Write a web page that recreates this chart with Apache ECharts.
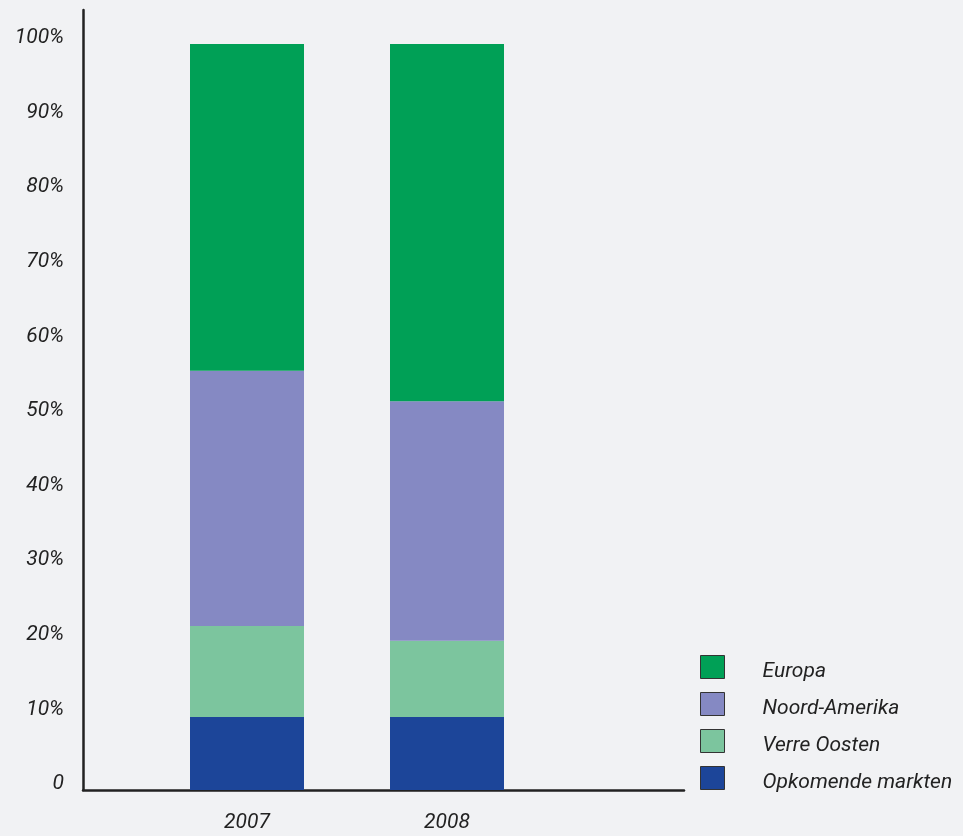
<!DOCTYPE html>
<html>
<head>
<meta charset="utf-8">
<script src="https://cdn.jsdelivr.net/npm/echarts@6/dist/echarts.min.js"></script>
<style>
html,body{margin:0;padding:0;background:#f1f2f4;}
#chart{width:963px;height:836px;}
</style>
</head>
<body>
<div id="chart"></div>
<script>
const years = [2007, 2008];
const seriesNames = ['Opkomende markten', 'Verre Oosten', 'Noord-Amerika', 'Europa'];
const opkomende = [9.8, 9.8];
const verreOosten = [12.2, 10.2];
const noordAmerika = [34.2, 32.1];
const europa = [43.8, 47.9];
const yTicks = [0, 10, 20, 30, 40, 50, 60, 70, 80, 90, 100];
const colors = ['#1c4599', '#7cc59e', '#8589c3', '#00a056'];
const values = [opkomende, verreOosten, noordAmerika, europa];

const font = 'Roboto';
const fs = 21;
const chart = echarts.init(document.getElementById('chart'));
chart.setOption({
  backgroundColor: '#f1f2f4',
  animation: false,
  grid: { left: 83, right: 279, top: 10, bottom: 46, containLabel: false },
  legend: {
    orient: 'vertical',
    left: 700,
    top: 655,
    padding: 0,
    itemWidth: 24,
    itemHeight: 23,
    itemGap: 10,
    icon: 'rect',
    data: ['Europa', 'Noord-Amerika', 'Verre Oosten', 'Opkomende markten'],
    itemStyle: { borderColor: '#333', borderWidth: 1 },
    formatter: name => '{a|' + name + '}',
    textStyle: {
      fontFamily: font, fontStyle: 'italic', fontSize: fs, color: '#222', padding: [0, 0, 0, 33],
      rich: { a: { fontFamily: font, fontStyle: 'italic', fontSize: fs, color: '#222', padding: [9, 0, 0, 0] } }
    }
  },
  xAxis: {
    type: 'value',
    min: 2006.18,
    max: 2009.185,
    splitLine: { show: false },
    axisTick: { show: false },
    axisLine: { show: true, lineStyle: { color: '#222', width: 2.5 } },
    axisLabel: {
      customValues: years,
      formatter: v => String(v),
      margin: 22,
      fontFamily: font, fontStyle: 'italic', fontSize: fs, color: '#222'
    }
  },
  yAxis: {
    type: 'value',
    min: 0,
    max: 104.56,
    interval: 10,
    splitLine: { show: false },
    axisTick: { show: false },
    axisLine: { show: true, lineStyle: { color: '#222', width: 2.5 } },
    axisLabel: {
      customValues: yTicks,
      formatter: v => v === 0 ? '0' : v + '%',
      margin: 19,
      verticalAlign: 'bottom',
      lineHeight: 12,
      fontFamily: font, fontStyle: 'italic', fontSize: fs, color: '#222'
    }
  },
  series: seriesNames.map((name, i) => ({
    name: name,
    type: 'bar',
    stack: 'total',
    barWidth: 114,
    itemStyle: { color: colors[i] },
    encode: { x: 1, y: 0 },
    data: years.map((y, j) => [values[i][j], y])
  }))
});
</script>
</body>
</html>
